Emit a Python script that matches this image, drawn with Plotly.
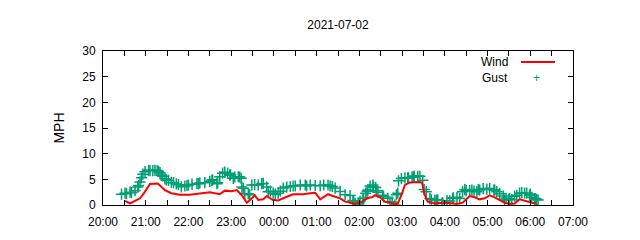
import plotly.graph_objects as go
from datetime import datetime, timedelta

TITLE = "2021-07-02"
BASE_DATE = "2021-07-02"

wind_times = ["20:31","20:38","20:45","20:52","20:59","21:06","21:17","21:23","21:27","21:36",
              "21:48","22:02","22:16","22:30","22:44","22:51","23:01","23:08","23:15","23:22",
              "23:29","23:33","23:38","23:45","23:50","23:58","00:06","00:13","00:18","00:27",
              "00:41","00:51","00:58","01:05","01:16","01:23","01:33","01:40","01:47","01:54",
              "02:04","02:12","02:18","02:22","02:29","02:36","02:43","02:50","02:54","02:59",
              "03:04","03:11","03:22","03:28","03:31","03:36","03:46","04:00","04:10","04:17",
              "04:25","04:35","04:42","04:49","04:56","05:03","05:10","05:17","05:24","05:31",
              "05:38","05:45","05:53","06:00","06:09"]
wind_mph = [0.8,0.3,0.8,1.3,2.6,4.1,4.2,3.5,2.9,2.3,
            2.0,2.0,2.3,2.5,2.1,2.8,2.7,2.9,1.9,0.45,
            1.3,1.9,1.0,1.1,1.75,1.0,0.9,1.4,1.6,2.1,
            2.1,2.3,2.4,1.1,2.1,1.75,1.3,0.65,0.5,0.2,
            0.65,1.4,1.5,1.9,1.5,0.65,0.5,0.1,0.3,1.9,
            3.9,4.4,4.5,4.4,2.3,0.65,0.3,0.5,0.3,0.2,
            0.45,1.75,1.5,1.1,1.3,1.9,1.5,1.0,0.45,0.2,
            0.3,1.1,0.8,0.45,0.2]

gust_times = ["20:26","20:31","20:33","20:38","20:40","20:45","20:49","20:50","20:52","20:54",
              "20:56","20:59","21:04","21:06","21:10","21:13","21:16","21:18","21:20","21:22",
              "21:24","21:27","21:29","21:32","21:36","21:39","21:43","21:46","21:50","21:55",
              "21:58","22:00","22:05","22:12","22:14","22:16","22:23","22:30","22:33","22:34",
              "22:40","22:41","22:44","22:48","22:51","22:55","22:58","22:59","23:03","23:05",
              "23:10","23:12","23:14","23:15","23:17","23:19","23:24","23:26","23:29","23:33",
              "23:38","23:43","23:45","23:50","23:52","23:55","23:59","00:02","00:06","00:09",
              "00:13","00:18","00:23","00:27","00:30","00:37","00:44","00:46","00:51","00:58",
              "01:05","01:10","01:16","01:19","01:22","01:26","01:33","01:40","01:47","01:51",
              "01:52","01:54","01:58","01:59","02:01","02:05","02:06","02:09","02:11","02:12",
              "02:15","02:19","02:20","02:23","02:24","02:26","02:33","02:34","02:40","02:43",
              "02:46","02:50","02:52","02:54","02:55","02:59","03:04","03:08","03:09","03:14",
              "03:16","03:17","03:22","03:25","03:29","03:31","03:34","03:39","03:41","03:46",
              "03:48","03:50","03:56","03:57","04:03","04:07","04:11","04:12","04:17","04:21",
              "04:25","04:28","04:30","04:35","04:38","04:41","04:45","04:47","04:49","04:54",
              "04:59","05:03","05:09","05:10","05:13","05:17","05:22","05:24","05:26","05:30",
              "05:31","05:34","05:38","05:41","05:45","05:48","05:52","05:55","05:59","06:00",
              "06:02","06:06","06:07","06:09","06:11"]
gust_mph = [2.1,2.3,2.2,2.5,2.4,2.8,3.5,3.8,4.5,5.3,
            6.0,6.5,6.75,6.7,6.7,6.75,6.7,6.55,6.3,5.8,
            5.6,5.1,4.9,4.8,4.4,4.35,4.1,3.95,3.55,3.7,
            3.8,3.9,4.05,4.2,4.15,4.3,4.35,4.6,4.8,4.9,
            4.15,4.35,5.5,6.2,6.4,6.2,5.8,5.9,5.2,5.45,
            5.5,5.45,5.2,3.5,3.25,2.2,2.2,2.0,3.9,3.95,
            3.9,4.15,4.2,3.5,2.6,2.7,2.3,2.1,2.3,2.7,
            3.3,3.5,3.6,3.7,3.7,3.9,3.9,3.7,3.9,3.8,
            3.75,3.9,3.9,3.7,3.6,3.3,2.65,2.0,1.85,0.9,
            0.6,0.3,0.0,0.3,0.7,1.3,1.25,2.3,2.7,2.9,
            3.7,3.9,3.5,3.4,2.8,2.5,1.9,1.6,1.3,0.6,
            0.6,0.0,2.0,2.3,4.7,5.15,5.3,5.3,5.3,5.5,
            5.45,5.65,5.6,5.6,4.8,3.0,2.6,1.25,1.0,0.9,
            0.95,1.0,0.3,0.45,0.85,0.8,1.3,1.4,1.5,1.25,
            2.6,3.0,2.8,2.8,2.9,2.7,2.6,3.0,2.9,3.2,
            3.1,3.2,2.9,2.9,2.6,2.2,1.75,0.95,1.3,1.1,
            1.25,1.0,1.7,1.9,2.3,2.4,2.3,2.3,1.9,2.1,
            1.5,1.2,1.25,1.1,0.95]

y_ticks = [0, 5, 10, 15, 20, 25, 30]


def to_dt(hhmm):
    base = datetime.strptime(BASE_DATE, "%Y-%m-%d")
    h, m = map(int, hhmm.split(":"))
    d = base + timedelta(hours=h, minutes=m)
    if h < 12:
        d += timedelta(days=1)
    return d


wx = [to_dt(t) for t in wind_times]
gx = [to_dt(t) for t in gust_times]

RED = "#ff0000"
GREEN = "#009e73"
FONT = "Liberation Sans, Arial, sans-serif"

fig = go.Figure()
fig.add_trace(go.Scatter(x=gx, y=gust_mph, mode="markers", name="Gust",
                         marker=dict(symbol="cross-thin", size=8, color=GREEN,
                                     line=dict(color=GREEN, width=1.5))))
fig.add_trace(go.Scatter(x=wx, y=wind_mph, mode="lines", name="Wind",
                         line=dict(color=RED, width=2)))

x0 = to_dt("20:00")
x1 = to_dt("07:00")

fig.update_layout(
    width=640, height=240,
    margin=dict(l=103, r=67, t=51, b=35),
    paper_bgcolor="white", plot_bgcolor="white",
    showlegend=False,
    font=dict(family=FONT, size=12, color="black"),
    title=dict(text=TITLE, x=(338/640), xanchor="center", y=1 - 25/240, yanchor="middle",
               font=dict(family=FONT, size=12)),
)
fig.update_xaxes(
    type="date", range=[x0, x1], showgrid=False, zeroline=False,
    showline=True, linecolor="black", linewidth=1, mirror="allticks",
    ticks="inside", ticklen=5, tickcolor="black", tickwidth=1,
    dtick=3600000, tick0=x0, tickformat="%H:%M",
    minor=dict(dtick=1800000, tick0=x0, ticks="inside", ticklen=5, tickcolor="black", showgrid=False),
    ticklabelstandoff=6,
)
fig.update_yaxes(
    range=[0, 30], tickvals=y_ticks, showgrid=False, zeroline=False,
    showline=True, linecolor="black", linewidth=1, mirror="allticks",
    ticks="inside", ticklen=5, tickcolor="black", tickwidth=1,
    title=dict(text="MPH", standoff=14),
    ticklabelstandoff=4,
)

# gnuplot-style key (text left, sample right)
fig.add_annotation(xref="paper", yref="paper", x=(510-103)/470, y=(205-62)/154,
                   text="Wind", showarrow=False, xanchor="right", yanchor="middle",
                   font=dict(family=FONT, size=12))
fig.add_shape(type="line", xref="paper", yref="paper",
              x0=(521-103)/470, x1=(555-103)/470, y0=(205-62)/154, y1=(205-62)/154,
              line=dict(color=RED, width=2))
fig.add_annotation(xref="paper", yref="paper", x=(510-103)/470, y=(205-78)/154,
                   text="Gust", showarrow=False, xanchor="right", yanchor="middle",
                   font=dict(family=FONT, size=12))
fig.add_annotation(xref="paper", yref="paper", x=(536-103)/470, y=(205-78)/154,
                   text="+", showarrow=False, xanchor="center", yanchor="middle",
                   font=dict(family=FONT, size=12, color=GREEN))

fig.write_html("out.html")
